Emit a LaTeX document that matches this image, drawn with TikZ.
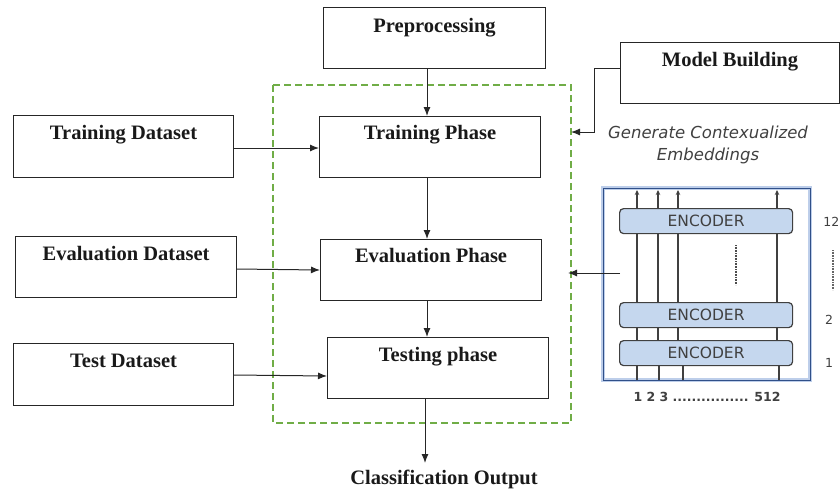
\documentclass[tikz,border=0pt]{standalone}
\usepackage{fontspec}
\setmainfont{Liberation Serif}
\newfontfamily\encfont{DejaVu Sans}
\usetikzlibrary{arrows.meta}
\definecolor{dashgreen}{RGB}{112,173,71}
\definecolor{encfill}{RGB}{197,215,238}
\definecolor{panelblue}{RGB}{68,114,196}
\begin{document}
\begin{tikzpicture}[x=1pt,y=-1pt,
  box/.style={draw=black!85,line width=1.1pt,rectangle,anchor=north west,inner sep=0pt},
  lbl/.style={font=\fontsize{20.5}{24}\selectfont\bfseries,anchor=base,inner sep=0pt,text=black!90},
  arr/.style={draw=black!85,line width=1pt,-{Latex[length=9pt,width=7pt]}},
  encbox/.style={draw=black!75,fill=encfill,rounded corners=4pt,line width=1.2pt,anchor=north west,
    minimum width=173pt,minimum height=25pt,inner sep=0pt},
  enctxt/.style={font=\encfont\fontsize{15.5}{17}\selectfont,text=black!75,inner sep=0pt},
  small/.style={font=\encfont\fontsize{12.5}{14}\selectfont,text=black!75,inner sep=0pt},
  col/.style={draw=black!75,line width=1.2pt}
]
\useasboundingbox (0,0) rectangle (840,488);
% green dashed frame
\draw[dashgreen,line width=1.1pt,dash pattern=on 7pt off 4pt] (273,85) rectangle (571,423);

% boxes
\node[box,minimum width=222pt,minimum height=61pt] (pre) at (323,7) {};
\node[lbl] (preT) at ([yshift=-25]pre.north) {Preprocessing};
\node[box,minimum width=219pt,minimum height=61pt] (mb) at (620,42) {};
\node[lbl] (mbT) at ([yshift=-24]mb.north) {Model Building};
\node[box,minimum width=221pt,minimum height=61pt] (tp) at (319,116) {};
\node[lbl] (tpT) at ([yshift=-23]tp.north) {Training Phase};
\node[box,minimum width=220pt,minimum height=62pt] (td) at (13,115) {};
\node[lbl] (tdT) at ([yshift=-24]td.north) {Training Dataset};
\node[box,minimum width=221pt,minimum height=61pt] (ed) at (15,236) {};
\node[lbl] (edT) at ([yshift=-24]ed.north) {Evaluation Dataset};
\node[box,minimum width=221pt,minimum height=61pt] (ep) at (320,239) {};
\node[lbl] (epT) at ([yshift=-23]ep.north) {Evaluation Phase};
\node[box,minimum width=220pt,minimum height=62pt] (tsd) at (13,343) {};
\node[lbl] (tsdT) at ([yshift=-24]tsd.north) {Test Dataset};
\node[box,minimum width=221pt,minimum height=61pt] (tsp) at (327,337) {};
\node[lbl] (tspT) at ([yshift=-24]tsp.north) {Testing phase};
\node[lbl] (out) at (444,484) {Classification Output};

% arrows
\draw[arr] (pre.south -| 427,0) -- (tp.north -| 427,0);
\draw[arr] (tp.south -| 427,0) -- (ep.north -| 427,0);
\draw[arr] (ep.south -| 427,0) -- (tsp.north -| 427,0);
\coordinate (outIn) at (425,463);
\draw[arr] (tsp.south -| 425,0) -- (outIn);
\draw[arr] (td.east |- 0,148) -- (tp.west |- 0,148);
\draw[arr] (ed.east |- 0,269) -- (ep.west |- 0,270);
\draw[arr] (tsd.east |- 0,375) -- (tsp.west |- 0,376);
\coordinate (mbIn) at (571,132);
\draw[arr] (mb.west |- 0,68) -| (594,132) -- (mbIn);

% right side: encoder panel
\node[font=\encfont\itshape\fontsize{16.5}{22}\selectfont,text=black!75,align=center,inner sep=0pt] (gen) at (708,145)
  {Generate Contexualized\\Embeddings};
\draw[panelblue!35,line width=4pt] (603,188) rectangle (810,380);
\node[draw=panelblue!70!black,line width=1.2pt,minimum width=207pt,minimum height=192pt,anchor=north west,inner sep=0pt] (panel) at (603,188) {};
\foreach \x/\b in {637/637,658/659,678/683,777/779}{
  \draw[col] (\b,380) -- (\b,340);
  \draw[col,-{Stealth[length=5pt,width=4.5pt]}] (\x,340) -- (\x,190);
}
\node[encbox] (e12) at (619,208) {};
\node[enctxt] (e12T) at (e12.center) {ENCODER};
\node[encbox] (e2) at (619,302) {};
\node[enctxt] (e2T) at (e2.center) {ENCODER};
\node[encbox] (e1) at (619,340) {};
\node[enctxt] (e1T) at (e1.center) {ENCODER};
\draw[black!70,line width=1.2pt,dash pattern=on 0.8pt off 0.8pt] (736,245) -- (736,285);
\draw[black!60,line width=1.2pt,dash pattern=on 0.8pt off 0.8pt] (833,250) -- (833,290);
\node[small,anchor=east] (n12) at (839.5,222) {12};
\node[small,anchor=west] (n2) at (825,320) {2};
\node[small,anchor=west] (n1) at (825,363) {1};
\node[small,font=\encfont\bfseries\fontsize{12.5}{14}\selectfont] (nb) at (707,397) {1 2 3 ................ 512};
\coordinate (panIn) at (620,273);
\draw[arr] (panIn) -- (568,273);
\end{tikzpicture}
\end{document}
